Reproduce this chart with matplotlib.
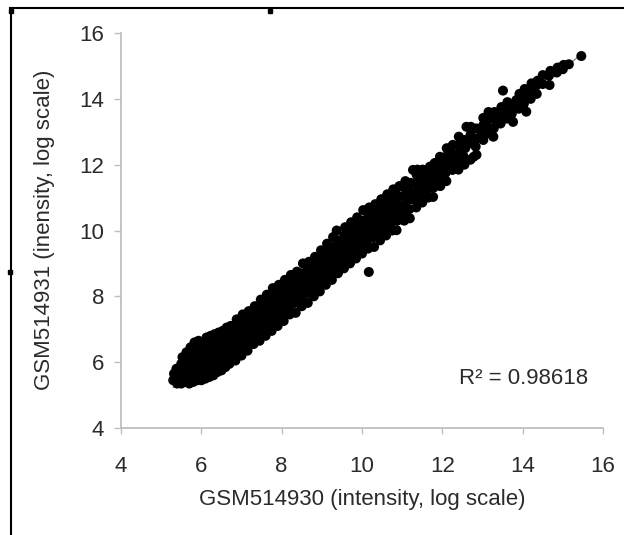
import matplotlib.pyplot as plt
from matplotlib.lines import Line2D
from matplotlib.patches import Rectangle
import numpy as np

# values, one block per narrow column of the cloud
gsm514930 = [
    5.30, 5.32,
    5.40, 5.42, 5.38,
    5.50, 5.48, 5.52, 5.50, 5.53,
    5.60, 5.58, 5.62, 5.60, 5.63,
    5.70, 5.68, 5.72, 5.70, 5.71, 5.73,
    5.80, 5.78, 5.82, 5.80, 5.81, 5.83,
    5.90, 5.88, 5.92, 5.90, 5.91, 5.93,
    6.00, 5.98, 6.02, 6.00, 6.01, 6.03,
    6.10, 6.08, 6.12, 6.10, 6.11, 6.13,
    6.20, 6.18, 6.22, 6.20, 6.21, 6.23,
    6.30, 6.28, 6.32, 6.30, 6.31, 6.33,
    6.40, 6.38, 6.42, 6.40, 6.41, 6.43,
    6.50, 6.48, 6.52, 6.50, 6.51, 6.53,
    6.60, 6.58, 6.62, 6.60, 6.61, 6.63,
    6.70, 6.68, 6.72, 6.70, 6.71, 6.73,
    6.85, 6.83, 6.87, 6.85, 6.86, 6.88,
    7.00, 6.98, 7.02, 7.00, 7.01, 7.03,
    7.15, 7.13, 7.17, 7.15, 7.16, 7.18,
    7.30, 7.28, 7.32, 7.30, 7.31, 7.33,
    7.45, 7.43, 7.47, 7.45, 7.46, 7.48,
    7.60, 7.58, 7.62, 7.60, 7.61, 7.63,
    7.75, 7.73, 7.77, 7.75, 7.76, 7.78,
    7.90, 7.88, 7.92, 7.90, 7.91, 7.93,
    8.05, 8.03, 8.07, 8.05, 8.06, 8.08,
    8.20, 8.18, 8.22, 8.20, 8.21, 8.23,
    8.35, 8.33, 8.37, 8.35, 8.36, 8.38,
    8.50, 8.48, 8.52, 8.50, 8.51, 8.53,
    8.65, 8.63, 8.67, 8.65, 8.66, 8.68,
    8.80, 8.78, 8.82, 8.80, 8.81, 8.83,
    8.95, 8.93, 8.97, 8.95, 8.96, 8.98,
    9.10, 9.08, 9.12, 9.10, 9.11, 9.13,
    9.25, 9.23, 9.27, 9.25, 9.26, 9.28,
    9.40, 9.38, 9.42, 9.37, 9.41, 9.37,
    9.55, 9.53, 9.57, 9.55, 9.56, 9.58,
    9.70, 9.68, 9.72, 9.70, 9.71, 9.73,
    9.85, 9.83, 9.87, 9.85, 9.86, 9.88,
    10.00, 9.98, 10.02, 10.00, 10.01, 10.03,
    10.15, 10.13, 10.17, 10.15, 10.16, 10.18, 10.17,
    10.30, 10.28, 10.32, 10.30, 10.31, 10.33,
    10.45, 10.43, 10.47, 10.45, 10.46, 10.48,
    10.60, 10.58, 10.62, 10.60, 10.61, 10.63,
    10.75, 10.73, 10.77, 10.75, 10.76, 10.78,
    10.86, 10.88, 10.92, 10.90, 10.91, 10.93,
    11.05, 11.03, 11.07, 11.05, 11.06, 11.08,
    11.19, 11.18, 11.22, 11.20, 11.21, 11.27,
    11.35, 11.33, 11.37, 11.35, 11.36, 11.38,
    11.50, 11.48, 11.52, 11.50, 11.51,
    11.65, 11.63, 11.67, 11.65, 11.69,
    11.77, 11.78, 11.82, 11.80, 11.81,
    11.95, 11.93, 11.97, 11.95, 11.94,
    12.10, 12.08, 12.12, 12.10, 12.11,
    12.25, 12.27, 12.27, 12.25, 12.26,
    12.40, 12.38, 12.42, 12.40, 12.41,
    12.55, 12.53, 12.57, 12.55, 12.60,
    12.70, 12.78, 12.72, 12.70, 12.71,
    12.85, 12.83, 12.87, 12.85,
    13.02, 12.98, 13.02, 13.02,
    13.15, 13.13, 13.17, 13.15,
    13.27, 13.28, 13.32, 13.30,
    13.45, 13.43, 13.47,
    13.60, 13.58, 13.62, 13.51,
    13.76, 13.73, 13.77, 13.84,
    13.90, 13.88, 13.92,
    14.09, 14.03, 14.07, 14.05,
    14.20, 14.17, 14.22,
    14.35, 14.33, 14.37,
    14.50, 14.50,
    14.67, 14.65, 14.69,
    14.85, 14.87,
    15.00, 15.02,
    15.15,
    15.46,
]
gsm514931 = [
    5.45, 5.65,
    5.35, 5.55, 5.80,
    5.35, 5.55, 5.75, 5.95, 6.15,
    5.40, 5.60, 5.85, 6.05, 6.30,
    5.35, 5.55, 5.80, 6.00, 6.20, 6.45,
    5.40, 5.65, 5.90, 6.10, 6.35, 6.60,
    5.45, 5.70, 5.95, 6.20, 6.45, 6.65,
    5.45, 5.70, 5.90, 6.15, 6.40, 6.60,
    5.50, 5.75, 6.00, 6.25, 6.50, 6.75,
    5.55, 5.80, 6.05, 6.30, 6.55, 6.80,
    5.60, 5.85, 6.10, 6.35, 6.60, 6.85,
    5.70, 5.95, 6.20, 6.45, 6.70, 6.90,
    5.75, 6.00, 6.25, 6.50, 6.75, 6.95,
    5.85, 6.10, 6.35, 6.60, 6.85, 7.05,
    5.95, 6.20, 6.45, 6.70, 6.95, 7.10,
    6.05, 6.30, 6.55, 6.80, 7.05, 7.30,
    6.20, 6.45, 6.70, 6.95, 7.20, 7.45,
    6.35, 6.60, 6.85, 7.10, 7.35, 7.55,
    6.55, 6.80, 7.00, 7.25, 7.50, 7.70,
    6.65, 6.90, 7.15, 7.40, 7.65, 7.90,
    6.80, 7.05, 7.30, 7.55, 7.80, 8.05,
    6.95, 7.20, 7.45, 7.70, 7.95, 8.25,
    7.10, 7.35, 7.60, 7.85, 8.10, 8.35,
    7.25, 7.50, 7.75, 8.00, 8.25, 8.50,
    7.45, 7.65, 7.90, 8.15, 8.40, 8.65,
    7.50, 7.80, 8.05, 8.30, 8.55, 8.75,
    7.70, 7.95, 8.20, 8.45, 8.70, 9.00,
    7.80, 8.10, 8.35, 8.60, 8.85, 9.05,
    8.00, 8.25, 8.50, 8.75, 9.00, 9.20,
    8.15, 8.40, 8.65, 8.90, 9.15, 9.40,
    8.35, 8.60, 8.85, 9.10, 9.35, 9.60,
    8.50, 8.75, 9.00, 9.25, 9.50, 9.80,
    8.70, 8.95, 9.20, 9.45, 9.70, 10.00,
    8.85, 9.10, 9.35, 9.60, 9.85, 10.10,
    9.00, 9.25, 9.50, 9.75, 10.00, 10.25,
    9.15, 9.40, 9.65, 9.90, 10.15, 10.40,
    9.30, 9.55, 9.80, 10.05, 10.30, 10.62,
    9.45, 9.70, 9.95, 10.20, 10.45, 10.70, 8.74,
    9.50, 9.80, 10.05, 10.30, 10.55, 10.80,
    9.70, 9.95, 10.20, 10.45, 10.70, 10.95,
    9.85, 10.10, 10.35, 10.60, 10.85, 11.10,
    10.00, 10.25, 10.50, 10.75, 11.00, 11.25,
    10.01, 10.30, 10.55, 10.80, 11.05, 11.35,
    10.30, 10.55, 10.80, 11.05, 11.30, 11.50,
    10.37, 10.65, 10.95, 11.20, 11.45, 11.84,
    10.70, 10.95, 11.20, 11.45, 11.70, 11.85,
    10.85, 11.10, 11.35, 11.60, 11.85,
    11.00, 11.25, 11.50, 11.75, 11.94,
    11.02, 11.30, 11.55, 11.80, 12.05,
    11.35, 11.60, 11.85, 12.10, 12.24,
    11.50, 11.75, 12.00, 12.25, 12.50,
    11.84, 12.24, 12.10, 12.35, 12.60,
    11.85, 12.10, 12.35, 12.60, 12.85,
    12.00, 12.25, 12.50, 12.75, 13.15,
    12.15, 12.24, 12.65, 12.90, 13.15,
    12.30, 12.55, 12.80, 13.10,
    12.75, 12.95, 13.20, 13.42,
    12.95, 13.15, 13.40, 13.60,
    12.85, 13.10, 13.35, 13.60,
    13.25, 13.50, 13.75,
    13.40, 13.65, 13.90, 14.25,
    13.30, 13.55, 13.80, 13.96,
    13.70, 13.95, 14.15,
    13.61, 13.85, 14.10, 14.30,
    14.00, 14.25, 14.47,
    14.15, 14.40, 14.55,
    14.45, 14.72,
    14.42, 14.70, 14.85,
    14.80, 14.95,
    14.90, 15.03,
    15.05,
    15.30,
]
r2_label = "R\u00b2 = 0.98618"
ticks = [4, 6, 8, 10, 12, 14, 16]

plt.rcParams['font.family'] = ['Liberation Sans', 'DejaVu Sans']
FS = 16
TXT = '#2b2b2b'

W, H = 624, 535
fig = plt.figure(figsize=(W / 100, H / 100), dpi=100)
ax = fig.add_axes([121 / W, 1 - 428 / H, (603 - 121) / W, (428 - 33) / H])

x = np.array(gsm514930)
y = np.array(gsm514931)

# linear trendline like Excel's, under the markers
k, b = np.polyfit(x, y, 1)
xl = np.array([x.min(), x.max()])
ax.plot(xl, k * xl + b, color='#8c8c8c', lw=1, zorder=1)
ax.scatter(x, y, s=52, color='black', edgecolors='none', zorder=2)

ax.set_xlim(4, 16)
ax.set_ylim(4, 16)
ax.set_xticks(ticks)
ax.set_yticks(ticks)

for s in ['top', 'right']:
    ax.spines[s].set_visible(False)
for s in ['left', 'bottom']:
    ax.spines[s].set_color('#bfbfbf')
    ax.spines[s].set_linewidth(1.3)
ax.tick_params(axis='x', direction='out', length=4, width=1, color='#bfbfbf',
               pad=16, labelsize=FS, labelcolor=TXT)
ax.tick_params(axis='y', direction='out', length=5, width=1, color='#bfbfbf',
               pad=7, labelsize=FS, labelcolor=TXT)

fig.text(588 / W, 1 - 378 / H, r2_label, ha='right', va='center',
         fontsize=FS, color=TXT)
fig.text(362 / W, 1 - 500 / H, 'GSM514930 (intensity, log scale)',
         ha='center', va='center', fontsize=FS, color=TXT)
fig.text(45 / W, 1 - 230 / H, 'GSM514931 (inensity, log scale)',
         ha='center', va='center', rotation=90, fontsize=FS, color=TXT)

# frame of the embedded object and its selection handles
fig.add_artist(Line2D([10 / W, 1], [1 - 8 / H, 1 - 8 / H], color='black', lw=1.5))
fig.add_artist(Line2D([11 / W, 11 / W], [0, 1 - 8 / H], color='black', lw=1.5))
for hx, hy in [(11, 11), (270, 11), (10, 272)]:
    fig.add_artist(Rectangle(((hx - 2) / W, 1 - (hy + 2) / H), 4 / W, 4 / H,
                             transform=fig.transFigure, color='black'))

fig.savefig('out.png', dpi=100)
